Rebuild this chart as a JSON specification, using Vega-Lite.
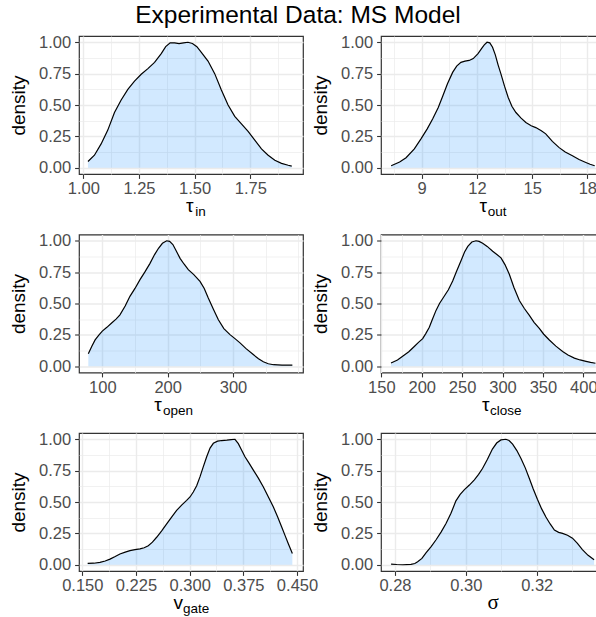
{
  "$schema": "https://vega.github.io/schema/vega-lite/v6.json",
  "autosize": {"type": "none"},
  "padding": {"left": 79, "top": 36, "right": 517, "bottom": 581},
  "background": "white",
  "title": {"text": "Experimental Data: MS Model", "fontSize": 24.5, "font": "Liberation Sans", "fontWeight": "normal", "color": "black", "anchor": "start", "frame": "group", "align": "center", "dx": 219, "dy": 24, "offset": 10, "baseline": "alphabetic"},
  "config": {
    "view": {"stroke": "#333333", "strokeWidth": 1.2},
    "axis": {"domain": false, "labelFont": "Liberation Sans", "labelFontSize": 16.5, "labelColor": "#4D4D4D", "tickColor": "#333333", "tickSize": 4.4, "tickWidth": 1.1, "gridColor": "#EBEBEB", "titleFont": "Liberation Sans", "titleFontWeight": "normal", "titleColor": "black", "labelFlush": false, "labelOverlap": false, "titleBaseline": "alphabetic"},
    "axisX": {"labelPadding": 2.5, "titleFontSize": 19, "titleAlign": "center", "titleY": 37.5},
    "axisY": {"labelPadding": 4, "titleFontSize": 19, "titleAngle": -90, "titleAlign": "center", "titleX": -54.7, "titleY": 69}
  },
  "datasets": {
    "tin": [
      {"v": 1.021, "d": 0.05}, {"v": 1.05, "d": 0.10}, {"v": 1.08, "d": 0.19}, {"v": 1.11, "d": 0.30}, {"v": 1.14, "d": 0.44}, {"v": 1.17, "d": 0.54}, {"v": 1.20, "d": 0.625}, {"v": 1.23, "d": 0.69}, {"v": 1.26, "d": 0.745}, {"v": 1.29, "d": 0.79}, {"v": 1.32, "d": 0.84}, {"v": 1.35, "d": 0.91}, {"v": 1.37, "d": 0.965}, {"v": 1.39, "d": 0.995}, {"v": 1.41, "d": 0.995}, {"v": 1.43, "d": 0.99}, {"v": 1.45, "d": 0.995}, {"v": 1.47, "d": 1.0}, {"v": 1.49, "d": 0.99}, {"v": 1.51, "d": 0.965}, {"v": 1.53, "d": 0.92}, {"v": 1.56, "d": 0.85}, {"v": 1.59, "d": 0.75}, {"v": 1.62, "d": 0.62}, {"v": 1.65, "d": 0.50}, {"v": 1.68, "d": 0.41}, {"v": 1.71, "d": 0.35}, {"v": 1.74, "d": 0.29}, {"v": 1.77, "d": 0.22}, {"v": 1.80, "d": 0.15}, {"v": 1.83, "d": 0.10}, {"v": 1.86, "d": 0.06}, {"v": 1.89, "d": 0.035}, {"v": 1.92, "d": 0.02}, {"v": 1.936, "d": 0.013}
    ],
    "tout": [
      {"v": 7.34, "d": 0.016}, {"v": 7.8, "d": 0.045}, {"v": 8.15, "d": 0.08}, {"v": 8.6, "d": 0.15}, {"v": 8.96, "d": 0.23}, {"v": 9.3, "d": 0.31}, {"v": 9.6, "d": 0.39}, {"v": 9.9, "d": 0.48}, {"v": 10.14, "d": 0.57}, {"v": 10.4, "d": 0.67}, {"v": 10.68, "d": 0.76}, {"v": 10.9, "d": 0.81}, {"v": 11.13, "d": 0.84}, {"v": 11.35, "d": 0.85}, {"v": 11.58, "d": 0.855}, {"v": 11.8, "d": 0.87}, {"v": 12.06, "d": 0.91}, {"v": 12.25, "d": 0.95}, {"v": 12.4, "d": 0.98}, {"v": 12.55, "d": 1.0}, {"v": 12.7, "d": 0.995}, {"v": 12.85, "d": 0.96}, {"v": 13.0, "d": 0.90}, {"v": 13.15, "d": 0.82}, {"v": 13.3, "d": 0.75}, {"v": 13.5, "d": 0.65}, {"v": 13.7, "d": 0.56}, {"v": 13.9, "d": 0.49}, {"v": 14.12, "d": 0.44}, {"v": 14.4, "d": 0.395}, {"v": 14.66, "d": 0.36}, {"v": 14.95, "d": 0.335}, {"v": 15.2, "d": 0.32}, {"v": 15.5, "d": 0.295}, {"v": 15.74, "d": 0.27}, {"v": 16.1, "d": 0.21}, {"v": 16.47, "d": 0.16}, {"v": 16.8, "d": 0.125}, {"v": 17.19, "d": 0.095}, {"v": 17.55, "d": 0.065}, {"v": 17.92, "d": 0.042}, {"v": 18.15, "d": 0.028}, {"v": 18.4, "d": 0.016}
    ],
    "topen": [
      {"v": 78.6, "d": 0.10}, {"v": 84, "d": 0.16}, {"v": 89, "d": 0.21}, {"v": 95, "d": 0.25}, {"v": 100, "d": 0.28}, {"v": 107, "d": 0.31}, {"v": 114.3, "d": 0.345}, {"v": 121, "d": 0.375}, {"v": 127, "d": 0.41}, {"v": 135, "d": 0.48}, {"v": 142.3, "d": 0.557}, {"v": 150, "d": 0.62}, {"v": 157.7, "d": 0.69}, {"v": 165, "d": 0.75}, {"v": 173, "d": 0.82}, {"v": 180, "d": 0.89}, {"v": 186, "d": 0.94}, {"v": 192, "d": 0.98}, {"v": 198.5, "d": 1.0}, {"v": 203, "d": 0.995}, {"v": 208, "d": 0.97}, {"v": 213, "d": 0.92}, {"v": 219, "d": 0.86}, {"v": 225, "d": 0.815}, {"v": 231.6, "d": 0.77}, {"v": 240, "d": 0.73}, {"v": 249.5, "d": 0.676}, {"v": 256, "d": 0.62}, {"v": 262, "d": 0.545}, {"v": 270, "d": 0.455}, {"v": 277.6, "d": 0.37}, {"v": 286, "d": 0.30}, {"v": 295.4, "d": 0.252}, {"v": 303, "d": 0.22}, {"v": 310.7, "d": 0.186}, {"v": 320, "d": 0.14}, {"v": 331, "d": 0.093}, {"v": 339, "d": 0.06}, {"v": 346.4, "d": 0.035}, {"v": 354, "d": 0.02}, {"v": 362, "d": 0.012}, {"v": 375, "d": 0.009}, {"v": 390.8, "d": 0.009}
    ],
    "tclose": [
      {"v": 162, "d": 0.026}, {"v": 170, "d": 0.05}, {"v": 176.4, "d": 0.079}, {"v": 184, "d": 0.115}, {"v": 190.8, "d": 0.157}, {"v": 196, "d": 0.19}, {"v": 201.2, "d": 0.22}, {"v": 205, "d": 0.26}, {"v": 209.4, "d": 0.31}, {"v": 213, "d": 0.37}, {"v": 217.7, "d": 0.445}, {"v": 222, "d": 0.50}, {"v": 228, "d": 0.56}, {"v": 233, "d": 0.61}, {"v": 238.3, "d": 0.68}, {"v": 243, "d": 0.755}, {"v": 248.6, "d": 0.84}, {"v": 253, "d": 0.91}, {"v": 257, "d": 0.955}, {"v": 262, "d": 0.99}, {"v": 267.2, "d": 1.0}, {"v": 271, "d": 0.995}, {"v": 275.4, "d": 0.98}, {"v": 281, "d": 0.955}, {"v": 287.8, "d": 0.916}, {"v": 293, "d": 0.89}, {"v": 298.1, "d": 0.864}, {"v": 303, "d": 0.81}, {"v": 308.4, "d": 0.733}, {"v": 314, "d": 0.63}, {"v": 320.8, "d": 0.524}, {"v": 327, "d": 0.46}, {"v": 333.2, "d": 0.406}, {"v": 339, "d": 0.35}, {"v": 345.5, "d": 0.301}, {"v": 351, "d": 0.255}, {"v": 357.9, "d": 0.209}, {"v": 366, "d": 0.16}, {"v": 374.4, "d": 0.118}, {"v": 381, "d": 0.09}, {"v": 388.9, "d": 0.065}, {"v": 396, "d": 0.05}, {"v": 403.3, "d": 0.039}, {"v": 409, "d": 0.031}, {"v": 415, "d": 0.024}
    ],
    "vgate": [
      {"v": 0.1575, "d": 0.011}, {"v": 0.166, "d": 0.012}, {"v": 0.1747, "d": 0.019}, {"v": 0.182, "d": 0.03}, {"v": 0.1887, "d": 0.045}, {"v": 0.196, "d": 0.065}, {"v": 0.2026, "d": 0.086}, {"v": 0.21, "d": 0.10}, {"v": 0.2166, "d": 0.112}, {"v": 0.2236, "d": 0.12}, {"v": 0.2306, "d": 0.126}, {"v": 0.2365, "d": 0.135}, {"v": 0.2422, "d": 0.152}, {"v": 0.248, "d": 0.18}, {"v": 0.2539, "d": 0.219}, {"v": 0.2609, "d": 0.27}, {"v": 0.2679, "d": 0.326}, {"v": 0.2748, "d": 0.38}, {"v": 0.2818, "d": 0.433}, {"v": 0.2888, "d": 0.475}, {"v": 0.2958, "d": 0.513}, {"v": 0.3005, "d": 0.54}, {"v": 0.3051, "d": 0.58}, {"v": 0.3098, "d": 0.63}, {"v": 0.3144, "d": 0.70}, {"v": 0.319, "d": 0.78}, {"v": 0.3238, "d": 0.861}, {"v": 0.3285, "d": 0.93}, {"v": 0.3331, "d": 0.968}, {"v": 0.339, "d": 0.985}, {"v": 0.3447, "d": 0.99}, {"v": 0.352, "d": 0.993}, {"v": 0.358, "d": 0.997}, {"v": 0.3633, "d": 1.0}, {"v": 0.368, "d": 0.965}, {"v": 0.3725, "d": 0.915}, {"v": 0.3773, "d": 0.861}, {"v": 0.383, "d": 0.81}, {"v": 0.389, "d": 0.754}, {"v": 0.396, "d": 0.69}, {"v": 0.403, "d": 0.62}, {"v": 0.41, "d": 0.54}, {"v": 0.417, "d": 0.46}, {"v": 0.423, "d": 0.38}, {"v": 0.4286, "d": 0.30}, {"v": 0.4335, "d": 0.23}, {"v": 0.438, "d": 0.166}, {"v": 0.4435, "d": 0.09}
    ],
    "sigma": [
      {"v": 0.2789, "d": 0.005}, {"v": 0.2805, "d": 0.002}, {"v": 0.2822, "d": 0.0}, {"v": 0.2845, "d": 0.003}, {"v": 0.2856, "d": 0.01}, {"v": 0.2864, "d": 0.023}, {"v": 0.2876, "d": 0.05}, {"v": 0.2888, "d": 0.096}, {"v": 0.2902, "d": 0.145}, {"v": 0.2916, "d": 0.199}, {"v": 0.293, "d": 0.26}, {"v": 0.2944, "d": 0.328}, {"v": 0.2958, "d": 0.41}, {"v": 0.2972, "d": 0.509}, {"v": 0.2984, "d": 0.56}, {"v": 0.2996, "d": 0.599}, {"v": 0.301, "d": 0.635}, {"v": 0.3024, "d": 0.677}, {"v": 0.3036, "d": 0.72}, {"v": 0.3047, "d": 0.767}, {"v": 0.3061, "d": 0.84}, {"v": 0.3075, "d": 0.922}, {"v": 0.3087, "d": 0.97}, {"v": 0.3099, "d": 0.995}, {"v": 0.3113, "d": 1.0}, {"v": 0.3122, "d": 0.99}, {"v": 0.3132, "d": 0.961}, {"v": 0.3144, "d": 0.91}, {"v": 0.3156, "d": 0.845}, {"v": 0.3168, "d": 0.77}, {"v": 0.3179, "d": 0.69}, {"v": 0.319, "d": 0.605}, {"v": 0.3202, "d": 0.522}, {"v": 0.3214, "d": 0.445}, {"v": 0.3226, "d": 0.38}, {"v": 0.3238, "d": 0.325}, {"v": 0.325, "d": 0.276}, {"v": 0.3262, "d": 0.258}, {"v": 0.3273, "d": 0.25}, {"v": 0.3287, "d": 0.235}, {"v": 0.3301, "d": 0.212}, {"v": 0.3315, "d": 0.17}, {"v": 0.3329, "d": 0.121}, {"v": 0.3345, "d": 0.075}, {"v": 0.3362, "d": 0.039}
    ]
  },
  "columns": 2,
  "bounds": "flush",
  "spacing": {"row": 60.5, "column": 78},
  "concat": [
    {
      "width": 224, "height": 138,
      "data": {"name": "tin"},
      "title": {"text": "in", "orient": "bottom", "anchor": "start", "frame": "group", "align": "left", "baseline": "alphabetic", "dx": 116.3, "offset": 0.7, "fontSize": 13.5, "fontWeight": "normal", "font": "Liberation Sans", "color": "black"},
      "encoding": {
        "x": {"field": "v", "type": "quantitative", "scale": {"domain": [0.9807, 1.9865], "nice": false, "zero": false},
          "axis": {"title": "τ", "titleX": 110.3, "values": [1, 1.125, 1.25, 1.375, 1.5, 1.625, 1.75, 1.875], "format": ".2f",
            "labelExpr": "indexof([1, 1.25, 1.5, 1.75], datum.value) >= 0 ? datum.label : ''",
            "gridWidth": {"condition": {"test": "indexof([1, 1.25, 1.5, 1.75], datum.value) >= 0", "value": 1.4}, "value": 0.7},
            "tickOpacity": {"condition": {"test": "indexof([1, 1.25, 1.5, 1.75], datum.value) >= 0", "value": 1}, "value": 0}}},
        "y": {"field": "d", "type": "quantitative", "scale": {"domain": [-0.05, 1.05], "nice": false, "zero": false},
          "axis": {"title": "density", "values": [0, 0.125, 0.25, 0.375, 0.5, 0.625, 0.75, 0.875, 1], "format": ".2f",
            "labelExpr": "indexof([0, 0.25, 0.5, 0.75, 1], datum.value) >= 0 ? datum.label : ''",
            "gridWidth": {"condition": {"test": "indexof([0, 0.25, 0.5, 0.75, 1], datum.value) >= 0", "value": 1.4}, "value": 0.7},
            "tickOpacity": {"condition": {"test": "indexof([0, 0.25, 0.5, 0.75, 1], datum.value) >= 0", "value": 1}, "value": 0}}}
      },
      "layer": [
        {"mark": {"type": "area", "color": "#1E90FF", "fillOpacity": 0.2}, "encoding": {}},
        {"mark": {"type": "line", "color": "#000000", "strokeWidth": 1.2}, "encoding": {}}
      ]
    },
    {
      "width": 224, "height": 138,
      "data": {"name": "tout"},
      "title": {"text": "out", "orient": "bottom", "anchor": "start", "frame": "group", "align": "left", "baseline": "alphabetic", "dx": 106.7, "offset": 0.7, "fontSize": 13.5, "fontWeight": "normal", "font": "Liberation Sans", "color": "black"},
      "encoding": {
        "x": {"field": "v", "type": "quantitative", "scale": {"domain": [6.788, 18.96], "nice": false, "zero": false},
          "axis": {"title": "τ", "titleX": 101.7, "values": [7.5, 9, 10.5, 12, 13.5, 15, 16.5, 18], "format": "d",
            "labelExpr": "indexof([9, 12, 15, 18], datum.value) >= 0 ? datum.label : ''",
            "gridWidth": {"condition": {"test": "indexof([9, 12, 15, 18], datum.value) >= 0", "value": 1.4}, "value": 0.7},
            "tickOpacity": {"condition": {"test": "indexof([9, 12, 15, 18], datum.value) >= 0", "value": 1}, "value": 0}}},
        "y": {"field": "d", "type": "quantitative", "scale": {"domain": [-0.05, 1.05], "nice": false, "zero": false},
          "axis": {"title": "density", "values": [0, 0.125, 0.25, 0.375, 0.5, 0.625, 0.75, 0.875, 1], "format": ".2f",
            "labelExpr": "indexof([0, 0.25, 0.5, 0.75, 1], datum.value) >= 0 ? datum.label : ''",
            "gridWidth": {"condition": {"test": "indexof([0, 0.25, 0.5, 0.75, 1], datum.value) >= 0", "value": 1.4}, "value": 0.7},
            "tickOpacity": {"condition": {"test": "indexof([0, 0.25, 0.5, 0.75, 1], datum.value) >= 0", "value": 1}, "value": 0}}}
      },
      "layer": [
        {"mark": {"type": "area", "color": "#1E90FF", "fillOpacity": 0.2}, "encoding": {}},
        {"mark": {"type": "line", "color": "#000000", "strokeWidth": 1.2}, "encoding": {}}
      ]
    },
    {
      "width": 224, "height": 138,
      "data": {"name": "topen"},
      "title": {"text": "open", "orient": "bottom", "anchor": "start", "frame": "group", "align": "left", "baseline": "alphabetic", "dx": 84, "offset": 0.7, "fontSize": 13.5, "fontWeight": "normal", "font": "Liberation Sans", "color": "black"},
      "encoding": {
        "x": {"field": "v", "type": "quantitative", "scale": {"domain": [64.35, 407.1], "nice": false, "zero": false},
          "axis": {"title": "τ", "titleX": 78.4, "values": [100, 150, 200, 250, 300, 350, 400], "format": "d",
            "labelExpr": "indexof([100, 200, 300], datum.value) >= 0 ? datum.label : ''",
            "gridWidth": {"condition": {"test": "indexof([100, 200, 300], datum.value) >= 0", "value": 1.4}, "value": 0.7},
            "tickOpacity": {"condition": {"test": "indexof([100, 200, 300], datum.value) >= 0", "value": 1}, "value": 0}}},
        "y": {"field": "d", "type": "quantitative", "scale": {"domain": [-0.05, 1.05], "nice": false, "zero": false},
          "axis": {"title": "density", "values": [0, 0.125, 0.25, 0.375, 0.5, 0.625, 0.75, 0.875, 1], "format": ".2f",
            "labelExpr": "indexof([0, 0.25, 0.5, 0.75, 1], datum.value) >= 0 ? datum.label : ''",
            "gridWidth": {"condition": {"test": "indexof([0, 0.25, 0.5, 0.75, 1], datum.value) >= 0", "value": 1.4}, "value": 0.7},
            "tickOpacity": {"condition": {"test": "indexof([0, 0.25, 0.5, 0.75, 1], datum.value) >= 0", "value": 1}, "value": 0}}}
      },
      "layer": [
        {"mark": {"type": "area", "color": "#1E90FF", "fillOpacity": 0.2}, "encoding": {}},
        {"mark": {"type": "line", "color": "#000000", "strokeWidth": 1.2}, "encoding": {}}
      ]
    },
    {
      "width": 224, "height": 138,
      "data": {"name": "tclose"},
      "title": {"text": "close", "orient": "bottom", "anchor": "start", "frame": "group", "align": "left", "baseline": "alphabetic", "dx": 109, "offset": 0.7, "fontSize": 13.5, "fontWeight": "normal", "font": "Liberation Sans", "color": "black"},
      "encoding": {
        "x": {"field": "v", "type": "quantitative", "scale": {"domain": [149.6, 426.8], "nice": false, "zero": false},
          "axis": {"title": "τ", "titleX": 104.2, "values": [150, 175, 200, 225, 250, 275, 300, 325, 350, 375, 400, 425], "format": "d",
            "labelExpr": "indexof([150, 200, 250, 300, 350, 400], datum.value) >= 0 ? datum.label : ''",
            "gridWidth": {"condition": {"test": "indexof([150, 200, 250, 300, 350, 400], datum.value) >= 0", "value": 1.4}, "value": 0.7},
            "tickOpacity": {"condition": {"test": "indexof([150, 200, 250, 300, 350, 400], datum.value) >= 0", "value": 1}, "value": 0}}},
        "y": {"field": "d", "type": "quantitative", "scale": {"domain": [-0.05, 1.05], "nice": false, "zero": false},
          "axis": {"title": "density", "values": [0, 0.125, 0.25, 0.375, 0.5, 0.625, 0.75, 0.875, 1], "format": ".2f",
            "labelExpr": "indexof([0, 0.25, 0.5, 0.75, 1], datum.value) >= 0 ? datum.label : ''",
            "gridWidth": {"condition": {"test": "indexof([0, 0.25, 0.5, 0.75, 1], datum.value) >= 0", "value": 1.4}, "value": 0.7},
            "tickOpacity": {"condition": {"test": "indexof([0, 0.25, 0.5, 0.75, 1], datum.value) >= 0", "value": 1}, "value": 0}}}
      },
      "layer": [
        {"mark": {"type": "area", "color": "#1E90FF", "fillOpacity": 0.2}, "encoding": {}},
        {"mark": {"type": "line", "color": "#000000", "strokeWidth": 1.2}, "encoding": {}}
      ]
    },
    {
      "width": 224, "height": 138,
      "data": {"name": "vgate"},
      "title": {"text": "gate", "orient": "bottom", "anchor": "start", "frame": "group", "align": "left", "baseline": "alphabetic", "dx": 104, "offset": 0.7, "fontSize": 13.5, "fontWeight": "normal", "font": "Liberation Sans", "color": "black"},
      "encoding": {
        "x": {"field": "v", "type": "quantitative", "scale": {"domain": [0.14539, 0.45837], "nice": false, "zero": false},
          "axis": {"title": "v", "titleX": 98.8, "values": [0.15, 0.1875, 0.225, 0.2625, 0.3, 0.3375, 0.375, 0.4125, 0.45], "format": ".3f",
            "labelExpr": "indexof([0.15, 0.225, 0.3, 0.375, 0.45], datum.value) >= 0 ? datum.label : ''",
            "gridWidth": {"condition": {"test": "indexof([0.15, 0.225, 0.3, 0.375, 0.45], datum.value) >= 0", "value": 1.4}, "value": 0.7},
            "tickOpacity": {"condition": {"test": "indexof([0.15, 0.225, 0.3, 0.375, 0.45], datum.value) >= 0", "value": 1}, "value": 0}}},
        "y": {"field": "d", "type": "quantitative", "scale": {"domain": [-0.05, 1.05], "nice": false, "zero": false},
          "axis": {"title": "density", "values": [0, 0.125, 0.25, 0.375, 0.5, 0.625, 0.75, 0.875, 1], "format": ".2f",
            "labelExpr": "indexof([0, 0.25, 0.5, 0.75, 1], datum.value) >= 0 ? datum.label : ''",
            "gridWidth": {"condition": {"test": "indexof([0, 0.25, 0.5, 0.75, 1], datum.value) >= 0", "value": 1.4}, "value": 0.7},
            "tickOpacity": {"condition": {"test": "indexof([0, 0.25, 0.5, 0.75, 1], datum.value) >= 0", "value": 1}, "value": 0}}}
      },
      "layer": [
        {"mark": {"type": "area", "color": "#1E90FF", "fillOpacity": 0.2}, "encoding": {}},
        {"mark": {"type": "line", "color": "#000000", "strokeWidth": 1.2}, "encoding": {}}
      ]
    },
    {
      "width": 224, "height": 138,
      "data": {"name": "sigma"},
      "encoding": {
        "x": {"field": "v", "type": "quantitative", "scale": {"domain": [0.27605, 0.33928], "nice": false, "zero": false},
          "axis": {"title": "σ", "titleFont": "Liberation Serif", "titleFontSize": 21, "titleX": 111.7, "values": [0.28, 0.29, 0.3, 0.31, 0.32, 0.33], "format": ".2f",
            "labelExpr": "indexof([0.28, 0.3, 0.32], datum.value) >= 0 ? datum.label : ''",
            "gridWidth": {"condition": {"test": "indexof([0.28, 0.3, 0.32], datum.value) >= 0", "value": 1.4}, "value": 0.7},
            "tickOpacity": {"condition": {"test": "indexof([0.28, 0.3, 0.32], datum.value) >= 0", "value": 1}, "value": 0}}},
        "y": {"field": "d", "type": "quantitative", "scale": {"domain": [-0.05, 1.05], "nice": false, "zero": false},
          "axis": {"title": "density", "values": [0, 0.125, 0.25, 0.375, 0.5, 0.625, 0.75, 0.875, 1], "format": ".2f",
            "labelExpr": "indexof([0, 0.25, 0.5, 0.75, 1], datum.value) >= 0 ? datum.label : ''",
            "gridWidth": {"condition": {"test": "indexof([0, 0.25, 0.5, 0.75, 1], datum.value) >= 0", "value": 1.4}, "value": 0.7},
            "tickOpacity": {"condition": {"test": "indexof([0, 0.25, 0.5, 0.75, 1], datum.value) >= 0", "value": 1}, "value": 0}}}
      },
      "layer": [
        {"mark": {"type": "area", "color": "#1E90FF", "fillOpacity": 0.2}, "encoding": {}},
        {"mark": {"type": "line", "color": "#000000", "strokeWidth": 1.2}, "encoding": {}}
      ]
    }
  ]
}
